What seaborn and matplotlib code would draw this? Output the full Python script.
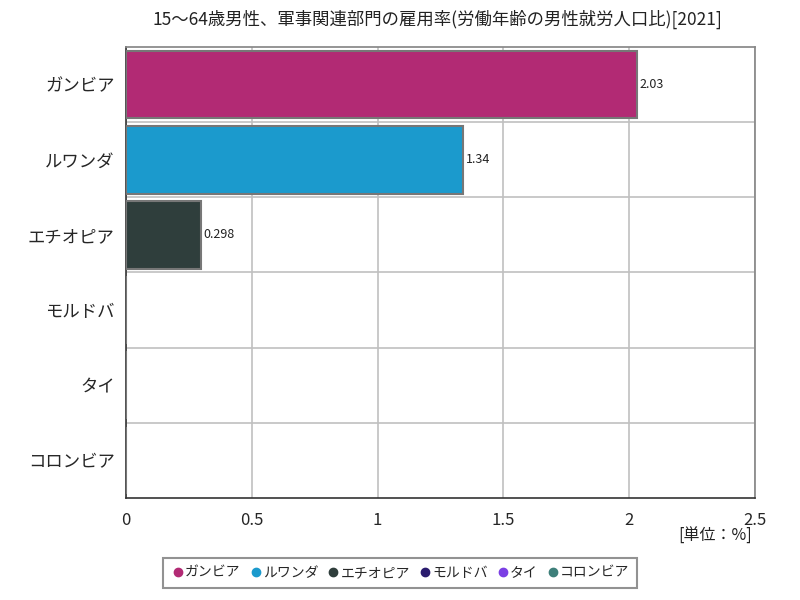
import pandas as pd
import matplotlib
matplotlib.use("Agg")
import matplotlib.pyplot as plt
import seaborn as sns
from matplotlib.lines import Line2D

# dados do gráfico
paises = ["ガンビア", "ルワンダ", "エチオピア", "モルドバ", "タイ", "コロンビア"]
valores = [2.03, 1.34, 0.298, 0.0, 0.0, 0.0]
rotulos = ["2.03", "1.34", "0.298", "", "", ""]
cores = ["#B22A74", "#1B9ACD", "#2F3E3C", "#2A1B6E", "#7B3FE4", "#3E7F7A"]
x_ticks = [0, 0.5, 1, 1.5, 2, 2.5]
x_tick_labels = ["0", "0.5", "1", "1.5", "2", "2.5"]

titulo = "15～64歳男性、軍事関連部門の雇用率(労働年齢の男性就労人口比)[2021]"

sns.set_theme(style="white")
plt.rcParams["font.family"] = ["Noto Sans CJK JP", "DejaVu Sans"]

df = pd.DataFrame({"pais": paises, "valor": valores})

fig = plt.figure(figsize=(8, 6), dpi=100)
ax = fig.add_axes([0.1575, 0.17, 0.78625, 0.7517])

sns.barplot(data=df, x="valor", y="pais", hue="pais", order=paises,
            palette=dict(zip(paises, cores)), dodge=False, legend=False,
            saturation=1, width=0.9, edgecolor="#777777", linewidth=1.5,
            ax=ax, zorder=3)

ax.set_xlim(0, 2.5)
ax.set_ylim(len(paises) - 0.5, -0.5)
ax.set_xticks(x_ticks)
ax.set_xticklabels(x_tick_labels, fontsize=12)
ax.tick_params(axis="y", labelsize=12.5, length=0, pad=8)
ax.tick_params(axis="x", length=0, pad=10)
ax.set_xlabel("")
ax.set_ylabel("")

# grade
ax.set_yticks([i + 0.5 for i in range(len(paises) - 1)], minor=True)
ax.tick_params(axis="y", which="minor", length=0)
ax.grid(axis="x", color="#c0c0c0", linewidth=1.2, zorder=0)
ax.grid(axis="y", which="minor", color="#c0c0c0", linewidth=1.2, zorder=0)
ax.grid(axis="y", which="major", visible=False)
for lado in ["top", "right"]:
    ax.spines[lado].set_color("#888888")
for lado in ["left", "bottom"]:
    ax.spines[lado].set_color("#333333")
    ax.spines[lado].set_linewidth(1.2)

# rótulos dos valores
for i, (v, r) in enumerate(zip(valores, rotulos)):
    if r:
        ax.text(v + 0.01, i, r, va="center", ha="left", fontsize=9, color="#222222")

fig.text(0.547, 0.967, titulo, ha="center", va="center", fontsize=12.5, color="#222222")
fig.text(0.94, 0.107, "[単位：%]", ha="right", va="center", fontsize=11.5, color="#222222")

handles = [Line2D([0], [0], marker="o", linestyle="", markersize=6,
                  markerfacecolor=c, markeredgecolor=c, label=p)
           for p, c in zip(paises, cores)]
leg = fig.legend(handles=handles, loc="center", bbox_to_anchor=(0.5, 0.045),
                 ncol=6, frameon=True, fontsize=10, handletextpad=0.0,
                 handlelength=1.0, columnspacing=0.6, fancybox=False,
                 borderpad=0.55, borderaxespad=0)
leg.get_frame().set_edgecolor("#777777")
leg.get_frame().set_linewidth(1.5)

fig.savefig("out.png", dpi=100)
